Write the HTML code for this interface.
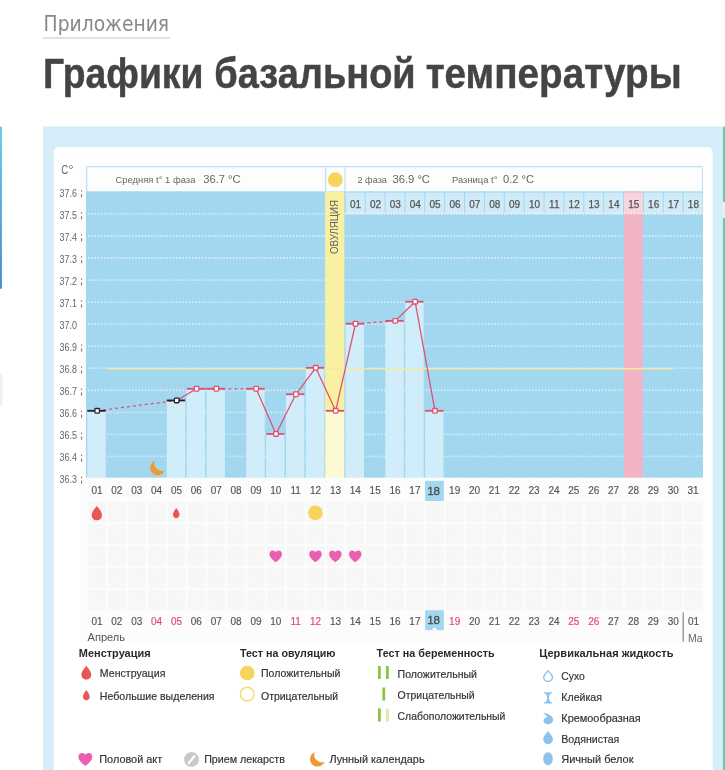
<!DOCTYPE html>
<html><head><meta charset="utf-8"><title>Графики базальной температуры</title>
<style>
html,body{margin:0;padding:0;background:#fff;width:725px;height:770px;overflow:hidden;}
svg{display:block;font-family:"Liberation Sans", "DejaVu Sans", sans-serif;will-change:transform;}
</style></head><body>
<svg width="725" height="770" viewBox="0 0 725 770">
<defs><linearGradient id="lg" x1="0" y1="0" x2="0" y2="1"><stop offset="0" stop-color="#6cc8e6"/><stop offset="1" stop-color="#3d8fd2"/></linearGradient><pattern id="hatch" width="2.6" height="4" patternUnits="userSpaceOnUse" patternTransform="rotate(-45)"><rect width="2.6" height="4" fill="#fafafa"/><rect width="1" height="4" fill="#f3f3f3"/></pattern></defs>
<rect x="0.00" y="126.70" width="1.90" height="162.00" fill="url(#lg)" />
<rect x="-4.00" y="374.00" width="5.60" height="31.50" fill="#f4f4f4" rx="2" stroke="#e6e6e6" stroke-width="0.8"/>
<text x="43.60" y="30.50" font-size="22" fill="#888" font-weight="normal" text-anchor="start" textLength="125.5" lengthAdjust="spacingAndGlyphs" font-family="DejaVu Sans Condensed, DejaVu Sans, sans-serif">Приложения</text>
<rect x="43.00" y="37.00" width="127.00" height="2.00" fill="#e2e2e2" />
<text x="42.90" y="87.60" font-size="42" fill="#444" font-weight="bold" text-anchor="start" textLength="160.6" lengthAdjust="spacingAndGlyphs" stroke="#444" stroke-width="0.45">Графики</text>
<text x="214.30" y="87.60" font-size="42" fill="#444" font-weight="bold" text-anchor="start" textLength="201.4" lengthAdjust="spacingAndGlyphs" stroke="#444" stroke-width="0.45">базальной</text>
<text x="425.70" y="87.60" font-size="42" fill="#444" font-weight="bold" text-anchor="start" textLength="256.0" lengthAdjust="spacingAndGlyphs" stroke="#444" stroke-width="0.45">температуры</text>
<rect x="43.00" y="126.50" width="679.50" height="700.00" fill="#d5edf9" />
<rect x="722.80" y="126.50" width="3.00" height="700.00" fill="#62cbb0" />
<rect x="722.80" y="202.00" width="3.00" height="16.00" fill="#e3f2f9" />
<rect x="53.70" y="147.20" width="659.00" height="700.00" fill="#ffffff" rx="5"/>
<rect x="80.00" y="162.80" width="623.60" height="479.70" fill="#fcfcfc" />
<rect x="86.00" y="166.00" width="617.00" height="26.60" fill="#bfe3f5" rx="1.5"/>
<rect x="87.30" y="167.30" width="237.60" height="24.20" fill="#fdfdfd" />
<rect x="326.30" y="167.30" width="18.00" height="24.20" fill="#fdfdfd" />
<rect x="345.60" y="167.30" width="356.20" height="24.20" fill="#fdfdfd" />
<circle cx="335.3" cy="179.7" r="7.4" fill="#f6d55c"/>
<text x="115.50" y="183.10" font-size="9.5" fill="#666" font-weight="normal" text-anchor="start" textLength="79.9" lengthAdjust="spacingAndGlyphs" >Средняя t° 1 фаза</text>
<text x="203.30" y="183.10" font-size="11.5" fill="#666" font-weight="normal" text-anchor="start" textLength="37.3" lengthAdjust="spacingAndGlyphs" >36.7 °C</text>
<text x="357.40" y="183.10" font-size="9.5" fill="#666" font-weight="normal" text-anchor="start" textLength="29.6" lengthAdjust="spacingAndGlyphs" >2 фаза</text>
<text x="392.40" y="183.10" font-size="11.5" fill="#666" font-weight="normal" text-anchor="start" textLength="37.6" lengthAdjust="spacingAndGlyphs" >36.9 °C</text>
<text x="452.00" y="183.10" font-size="9.5" fill="#666" font-weight="normal" text-anchor="start" textLength="45.5" lengthAdjust="spacingAndGlyphs" >Разница t°</text>
<text x="503.00" y="183.10" font-size="11.5" fill="#666" font-weight="normal" text-anchor="start" textLength="31" lengthAdjust="spacingAndGlyphs" >0.2 °C</text>
<rect x="86.00" y="191.50" width="617.00" height="286.50" fill="#a2d7ef" />
<line x1="88" y1="213.94" x2="703" y2="213.94" stroke="#ffffff" stroke-opacity="0.5" stroke-width="1.8" stroke-dasharray="1.6 1.55"/>
<line x1="88" y1="235.98" x2="703" y2="235.98" stroke="#ffffff" stroke-opacity="0.5" stroke-width="1.8" stroke-dasharray="1.6 1.55"/>
<line x1="88" y1="258.02" x2="703" y2="258.02" stroke="#ffffff" stroke-opacity="0.5" stroke-width="1.8" stroke-dasharray="1.6 1.55"/>
<line x1="88" y1="280.06" x2="703" y2="280.06" stroke="#ffffff" stroke-opacity="0.5" stroke-width="1.8" stroke-dasharray="1.6 1.55"/>
<line x1="88" y1="302.10" x2="703" y2="302.10" stroke="#ffffff" stroke-opacity="0.5" stroke-width="1.8" stroke-dasharray="1.6 1.55"/>
<line x1="88" y1="324.14" x2="703" y2="324.14" stroke="#ffffff" stroke-opacity="0.5" stroke-width="1.8" stroke-dasharray="1.6 1.55"/>
<line x1="88" y1="346.18" x2="703" y2="346.18" stroke="#ffffff" stroke-opacity="0.5" stroke-width="1.8" stroke-dasharray="1.6 1.55"/>
<line x1="88" y1="368.22" x2="703" y2="368.22" stroke="#ffffff" stroke-opacity="0.5" stroke-width="1.8" stroke-dasharray="1.6 1.55"/>
<line x1="88" y1="390.26" x2="703" y2="390.26" stroke="#ffffff" stroke-opacity="0.5" stroke-width="1.8" stroke-dasharray="1.6 1.55"/>
<line x1="88" y1="412.30" x2="703" y2="412.30" stroke="#ffffff" stroke-opacity="0.5" stroke-width="1.8" stroke-dasharray="1.6 1.55"/>
<line x1="88" y1="434.34" x2="703" y2="434.34" stroke="#ffffff" stroke-opacity="0.5" stroke-width="1.8" stroke-dasharray="1.6 1.55"/>
<line x1="88" y1="456.38" x2="703" y2="456.38" stroke="#ffffff" stroke-opacity="0.5" stroke-width="1.8" stroke-dasharray="1.6 1.55"/>
<rect x="325.14" y="191.50" width="19.20" height="286.50" fill="#faf0a2" />
<rect x="623.89" y="191.50" width="18.80" height="286.50" fill="#f1b4c4" />
<rect x="87.30" y="410.80" width="18.40" height="67.20" fill="#d1edf9" />
<rect x="166.78" y="400.44" width="18.40" height="77.56" fill="#d1edf9" />
<rect x="186.65" y="388.76" width="18.40" height="89.24" fill="#d1edf9" />
<rect x="206.52" y="388.76" width="18.40" height="89.24" fill="#d1edf9" />
<rect x="246.26" y="388.76" width="18.40" height="89.24" fill="#d1edf9" />
<rect x="266.13" y="433.94" width="18.40" height="44.06" fill="#d1edf9" />
<rect x="286.00" y="394.27" width="18.40" height="83.73" fill="#d1edf9" />
<rect x="305.87" y="367.82" width="18.40" height="110.18" fill="#d1edf9" />
<rect x="325.74" y="410.80" width="18.40" height="67.20" fill="#fcf9d3" />
<rect x="345.61" y="323.74" width="18.40" height="154.26" fill="#d1edf9" />
<rect x="385.35" y="320.87" width="18.40" height="157.13" fill="#d1edf9" />
<rect x="405.22" y="301.70" width="18.40" height="176.30" fill="#d1edf9" />
<rect x="425.09" y="410.80" width="18.40" height="67.20" fill="#d1edf9" />
<rect x="345.81" y="192.60" width="18.90" height="20.90" fill="#d0eaf8" />
<text x="355.61" y="208.30" font-size="10" fill="#555" font-weight="normal" text-anchor="middle" stroke="#555" stroke-width="0.25">01</text>
<rect x="365.68" y="192.60" width="18.90" height="20.90" fill="#d0eaf8" />
<text x="375.48" y="208.30" font-size="10" fill="#555" font-weight="normal" text-anchor="middle" stroke="#555" stroke-width="0.25">02</text>
<rect x="385.55" y="192.60" width="18.90" height="20.90" fill="#d0eaf8" />
<text x="395.35" y="208.30" font-size="10" fill="#555" font-weight="normal" text-anchor="middle" stroke="#555" stroke-width="0.25">03</text>
<rect x="405.42" y="192.60" width="18.90" height="20.90" fill="#d0eaf8" />
<text x="415.22" y="208.30" font-size="10" fill="#555" font-weight="normal" text-anchor="middle" stroke="#555" stroke-width="0.25">04</text>
<rect x="425.29" y="192.60" width="18.90" height="20.90" fill="#d0eaf8" />
<text x="435.09" y="208.30" font-size="10" fill="#555" font-weight="normal" text-anchor="middle" stroke="#555" stroke-width="0.25">05</text>
<rect x="445.16" y="192.60" width="18.90" height="20.90" fill="#d0eaf8" />
<text x="454.96" y="208.30" font-size="10" fill="#555" font-weight="normal" text-anchor="middle" stroke="#555" stroke-width="0.25">06</text>
<rect x="465.03" y="192.60" width="18.90" height="20.90" fill="#d0eaf8" />
<text x="474.83" y="208.30" font-size="10" fill="#555" font-weight="normal" text-anchor="middle" stroke="#555" stroke-width="0.25">07</text>
<rect x="484.90" y="192.60" width="18.90" height="20.90" fill="#d0eaf8" />
<text x="494.70" y="208.30" font-size="10" fill="#555" font-weight="normal" text-anchor="middle" stroke="#555" stroke-width="0.25">08</text>
<rect x="504.77" y="192.60" width="18.90" height="20.90" fill="#d0eaf8" />
<text x="514.57" y="208.30" font-size="10" fill="#555" font-weight="normal" text-anchor="middle" stroke="#555" stroke-width="0.25">09</text>
<rect x="524.64" y="192.60" width="18.90" height="20.90" fill="#d0eaf8" />
<text x="534.44" y="208.30" font-size="10" fill="#555" font-weight="normal" text-anchor="middle" stroke="#555" stroke-width="0.25">10</text>
<rect x="544.51" y="192.60" width="18.90" height="20.90" fill="#d0eaf8" />
<text x="554.31" y="208.30" font-size="10" fill="#555" font-weight="normal" text-anchor="middle" stroke="#555" stroke-width="0.25">11</text>
<rect x="564.38" y="192.60" width="18.90" height="20.90" fill="#d0eaf8" />
<text x="574.18" y="208.30" font-size="10" fill="#555" font-weight="normal" text-anchor="middle" stroke="#555" stroke-width="0.25">12</text>
<rect x="584.25" y="192.60" width="18.90" height="20.90" fill="#d0eaf8" />
<text x="594.05" y="208.30" font-size="10" fill="#555" font-weight="normal" text-anchor="middle" stroke="#555" stroke-width="0.25">13</text>
<rect x="604.12" y="192.60" width="18.90" height="20.90" fill="#d0eaf8" />
<text x="613.92" y="208.30" font-size="10" fill="#555" font-weight="normal" text-anchor="middle" stroke="#555" stroke-width="0.25">14</text>
<rect x="623.99" y="192.60" width="18.90" height="20.90" fill="#f7d4df" />
<text x="633.79" y="208.30" font-size="10" fill="#555" font-weight="normal" text-anchor="middle" stroke="#555" stroke-width="0.25">15</text>
<rect x="643.86" y="192.60" width="18.90" height="20.90" fill="#d0eaf8" />
<text x="653.66" y="208.30" font-size="10" fill="#555" font-weight="normal" text-anchor="middle" stroke="#555" stroke-width="0.25">16</text>
<rect x="663.73" y="192.60" width="18.90" height="20.90" fill="#d0eaf8" />
<text x="673.53" y="208.30" font-size="10" fill="#555" font-weight="normal" text-anchor="middle" stroke="#555" stroke-width="0.25">17</text>
<rect x="683.60" y="192.60" width="18.90" height="20.90" fill="#d0eaf8" />
<text x="693.40" y="208.30" font-size="10" fill="#555" font-weight="normal" text-anchor="middle" stroke="#555" stroke-width="0.25">18</text>
<line x1="345.31" y1="213.5" x2="703" y2="213.5" stroke="#ffffff" stroke-opacity="0.8" stroke-width="1.3" stroke-dasharray="1.5 1.5"/>
<line x1="87" y1="477.5" x2="703" y2="477.5" stroke="#ffffff" stroke-opacity="0.6" stroke-width="1" stroke-dasharray="1.5 1.5"/>
<line x1="107" y1="368.7" x2="673" y2="368.7" stroke="#f2eca0" stroke-width="1.6"/>
<text x="0" y="0" font-size="10" fill="#666" transform="translate(338.2,254) rotate(-90)" textLength="54" lengthAdjust="spacingAndGlyphs">ОВУЛЯЦИЯ</text>
<line x1="97.20" y1="410.80" x2="176.68" y2="400.44" stroke="#e04f72" stroke-width="1.25" stroke-dasharray="3 3"/>
<line x1="176.68" y1="400.44" x2="196.55" y2="388.76" stroke="#e04f72" stroke-width="1.25"/>
<line x1="196.55" y1="388.76" x2="216.42" y2="388.76" stroke="#e04f72" stroke-width="1.25"/>
<line x1="216.42" y1="388.76" x2="256.16" y2="388.76" stroke="#e04f72" stroke-width="1.25" stroke-dasharray="3 3"/>
<line x1="256.16" y1="388.76" x2="276.03" y2="433.94" stroke="#e04f72" stroke-width="1.25"/>
<line x1="276.03" y1="433.94" x2="295.90" y2="394.27" stroke="#e04f72" stroke-width="1.25"/>
<line x1="295.90" y1="394.27" x2="315.77" y2="367.82" stroke="#e04f72" stroke-width="1.25"/>
<line x1="315.77" y1="367.82" x2="335.64" y2="410.80" stroke="#e04f72" stroke-width="1.25"/>
<line x1="335.64" y1="410.80" x2="355.51" y2="323.74" stroke="#e04f72" stroke-width="1.25"/>
<line x1="355.51" y1="323.74" x2="395.25" y2="320.87" stroke="#e04f72" stroke-width="1.25" stroke-dasharray="3 3"/>
<line x1="395.25" y1="320.87" x2="415.12" y2="301.70" stroke="#e04f72" stroke-width="1.25"/>
<line x1="415.12" y1="301.70" x2="434.99" y2="410.80" stroke="#e04f72" stroke-width="1.25"/>
<line x1="87.30" y1="410.80" x2="105.70" y2="410.80" stroke="#222" stroke-width="1.8"/>
<rect x="94.90" y="408.50" width="4.6" height="4.6" fill="#fff" stroke="#222" stroke-width="1.3" rx="0.8"/>
<line x1="166.78" y1="400.44" x2="185.18" y2="400.44" stroke="#222" stroke-width="1.8"/>
<rect x="174.38" y="398.14" width="4.6" height="4.6" fill="#fff" stroke="#222" stroke-width="1.3" rx="0.8"/>
<line x1="186.65" y1="388.76" x2="205.05" y2="388.76" stroke="#e04f72" stroke-width="1.8"/>
<rect x="194.25" y="386.46" width="4.6" height="4.6" fill="#fff" stroke="#e04f72" stroke-width="1.3" rx="0.8"/>
<line x1="206.52" y1="388.76" x2="224.92" y2="388.76" stroke="#e04f72" stroke-width="1.8"/>
<rect x="214.12" y="386.46" width="4.6" height="4.6" fill="#fff" stroke="#e04f72" stroke-width="1.3" rx="0.8"/>
<line x1="246.26" y1="388.76" x2="264.66" y2="388.76" stroke="#e04f72" stroke-width="1.8"/>
<rect x="253.86" y="386.46" width="4.6" height="4.6" fill="#fff" stroke="#e04f72" stroke-width="1.3" rx="0.8"/>
<line x1="266.13" y1="433.94" x2="284.53" y2="433.94" stroke="#e04f72" stroke-width="1.8"/>
<rect x="273.73" y="431.64" width="4.6" height="4.6" fill="#fff" stroke="#e04f72" stroke-width="1.3" rx="0.8"/>
<line x1="286.00" y1="394.27" x2="304.40" y2="394.27" stroke="#e04f72" stroke-width="1.8"/>
<rect x="293.60" y="391.97" width="4.6" height="4.6" fill="#fff" stroke="#e04f72" stroke-width="1.3" rx="0.8"/>
<line x1="305.87" y1="367.82" x2="324.27" y2="367.82" stroke="#e04f72" stroke-width="1.8"/>
<rect x="313.47" y="365.52" width="4.6" height="4.6" fill="#fff" stroke="#e04f72" stroke-width="1.3" rx="0.8"/>
<line x1="325.74" y1="410.80" x2="344.14" y2="410.80" stroke="#e04f72" stroke-width="1.8"/>
<rect x="333.34" y="408.50" width="4.6" height="4.6" fill="#fff" stroke="#e04f72" stroke-width="1.3" rx="0.8"/>
<line x1="345.61" y1="323.74" x2="364.01" y2="323.74" stroke="#e04f72" stroke-width="1.8"/>
<rect x="353.21" y="321.44" width="4.6" height="4.6" fill="#fff" stroke="#e04f72" stroke-width="1.3" rx="0.8"/>
<line x1="385.35" y1="320.87" x2="403.75" y2="320.87" stroke="#e04f72" stroke-width="1.8"/>
<rect x="392.95" y="318.57" width="4.6" height="4.6" fill="#fff" stroke="#e04f72" stroke-width="1.3" rx="0.8"/>
<line x1="405.22" y1="301.70" x2="423.62" y2="301.70" stroke="#e04f72" stroke-width="1.8"/>
<rect x="412.82" y="299.40" width="4.6" height="4.6" fill="#fff" stroke="#e04f72" stroke-width="1.3" rx="0.8"/>
<line x1="425.09" y1="410.80" x2="443.49" y2="410.80" stroke="#e04f72" stroke-width="1.8"/>
<rect x="432.69" y="408.50" width="4.6" height="4.6" fill="#fff" stroke="#e04f72" stroke-width="1.3" rx="0.8"/>
<path transform="translate(155,460.8)" d="M0,0 A7.5,7.5 0 1,0 9.7,9.7 A7.5,7.5 0 0,1 0,0 Z" fill="#ec9a35"/>
<text x="61.20" y="173.80" font-size="12" fill="#666" font-weight="normal" text-anchor="start" textLength="7.0" lengthAdjust="spacingAndGlyphs" >C</text>
<text x="68.60" y="174.30" font-size="12.5" fill="#666" font-weight="normal" text-anchor="start" textLength="5.0" lengthAdjust="spacingAndGlyphs" >°</text>
<text x="59.50" y="196.70" font-size="10.5" fill="#666" font-weight="normal" text-anchor="start" textLength="17.5" lengthAdjust="spacingAndGlyphs" >37.6</text>
<rect x="81.00" y="190.20" width="1.10" height="1.40" fill="#777" />
<rect x="81.00" y="194.20" width="1.10" height="3.00" fill="#777" />
<text x="59.50" y="218.74" font-size="10.5" fill="#666" font-weight="normal" text-anchor="start" textLength="17.5" lengthAdjust="spacingAndGlyphs" >37.5</text>
<rect x="81.00" y="212.24" width="1.10" height="1.40" fill="#777" />
<rect x="81.00" y="216.24" width="1.10" height="3.00" fill="#777" />
<text x="59.50" y="240.78" font-size="10.5" fill="#666" font-weight="normal" text-anchor="start" textLength="17.5" lengthAdjust="spacingAndGlyphs" >37.4</text>
<rect x="81.00" y="234.28" width="1.10" height="1.40" fill="#777" />
<rect x="81.00" y="238.28" width="1.10" height="3.00" fill="#777" />
<text x="59.50" y="262.82" font-size="10.5" fill="#666" font-weight="normal" text-anchor="start" textLength="17.5" lengthAdjust="spacingAndGlyphs" >37.3</text>
<rect x="81.00" y="256.32" width="1.10" height="1.40" fill="#777" />
<rect x="81.00" y="260.32" width="1.10" height="3.00" fill="#777" />
<text x="59.50" y="284.86" font-size="10.5" fill="#666" font-weight="normal" text-anchor="start" textLength="17.5" lengthAdjust="spacingAndGlyphs" >37.2</text>
<rect x="81.00" y="278.36" width="1.10" height="1.40" fill="#777" />
<rect x="81.00" y="282.36" width="1.10" height="3.00" fill="#777" />
<text x="59.50" y="306.90" font-size="10.5" fill="#666" font-weight="normal" text-anchor="start" textLength="17.5" lengthAdjust="spacingAndGlyphs" >37.1</text>
<rect x="81.00" y="300.40" width="1.10" height="1.40" fill="#777" />
<rect x="81.00" y="304.40" width="1.10" height="3.00" fill="#777" />
<text x="59.50" y="328.94" font-size="10.5" fill="#666" font-weight="normal" text-anchor="start" textLength="17.5" lengthAdjust="spacingAndGlyphs" >37.0</text>
<text x="59.50" y="350.98" font-size="10.5" fill="#666" font-weight="normal" text-anchor="start" textLength="17.5" lengthAdjust="spacingAndGlyphs" >36.9</text>
<rect x="81.00" y="344.48" width="1.10" height="1.40" fill="#777" />
<rect x="81.00" y="348.48" width="1.10" height="3.00" fill="#777" />
<text x="59.50" y="373.02" font-size="10.5" fill="#666" font-weight="normal" text-anchor="start" textLength="17.5" lengthAdjust="spacingAndGlyphs" >36.8</text>
<rect x="81.00" y="366.52" width="1.10" height="1.40" fill="#777" />
<rect x="81.00" y="370.52" width="1.10" height="3.00" fill="#777" />
<text x="59.50" y="395.06" font-size="10.5" fill="#666" font-weight="normal" text-anchor="start" textLength="17.5" lengthAdjust="spacingAndGlyphs" >36.7</text>
<rect x="81.00" y="388.56" width="1.10" height="1.40" fill="#777" />
<rect x="81.00" y="392.56" width="1.10" height="3.00" fill="#777" />
<text x="59.50" y="417.10" font-size="10.5" fill="#666" font-weight="normal" text-anchor="start" textLength="17.5" lengthAdjust="spacingAndGlyphs" >36.6</text>
<rect x="81.00" y="410.60" width="1.10" height="1.40" fill="#777" />
<rect x="81.00" y="414.60" width="1.10" height="3.00" fill="#777" />
<text x="59.50" y="439.14" font-size="10.5" fill="#666" font-weight="normal" text-anchor="start" textLength="17.5" lengthAdjust="spacingAndGlyphs" >36.5</text>
<rect x="81.00" y="432.64" width="1.10" height="1.40" fill="#777" />
<rect x="81.00" y="436.64" width="1.10" height="3.00" fill="#777" />
<text x="59.50" y="461.18" font-size="10.5" fill="#666" font-weight="normal" text-anchor="start" textLength="17.5" lengthAdjust="spacingAndGlyphs" >36.4</text>
<rect x="81.00" y="454.68" width="1.10" height="1.40" fill="#777" />
<rect x="81.00" y="458.68" width="1.10" height="3.00" fill="#777" />
<text x="59.50" y="483.22" font-size="10.5" fill="#666" font-weight="normal" text-anchor="start" textLength="17.5" lengthAdjust="spacingAndGlyphs" >36.3</text>
<rect x="81.00" y="476.72" width="1.10" height="1.40" fill="#777" />
<rect x="81.00" y="480.72" width="1.10" height="3.00" fill="#777" />
<rect x="88.40" y="502.00" width="17.40" height="20.00" fill="url(#hatch)" />
<rect x="108.27" y="502.00" width="17.40" height="20.00" fill="url(#hatch)" />
<rect x="128.14" y="502.00" width="17.40" height="20.00" fill="url(#hatch)" />
<rect x="148.01" y="502.00" width="17.40" height="20.00" fill="url(#hatch)" />
<rect x="167.88" y="502.00" width="17.40" height="20.00" fill="url(#hatch)" />
<rect x="187.75" y="502.00" width="17.40" height="20.00" fill="url(#hatch)" />
<rect x="207.62" y="502.00" width="17.40" height="20.00" fill="url(#hatch)" />
<rect x="227.49" y="502.00" width="17.40" height="20.00" fill="url(#hatch)" />
<rect x="247.36" y="502.00" width="17.40" height="20.00" fill="url(#hatch)" />
<rect x="267.23" y="502.00" width="17.40" height="20.00" fill="url(#hatch)" />
<rect x="287.10" y="502.00" width="17.40" height="20.00" fill="url(#hatch)" />
<rect x="306.97" y="502.00" width="17.40" height="20.00" fill="url(#hatch)" />
<rect x="326.84" y="502.00" width="17.40" height="20.00" fill="url(#hatch)" />
<rect x="346.71" y="502.00" width="17.40" height="20.00" fill="url(#hatch)" />
<rect x="366.58" y="502.00" width="17.40" height="20.00" fill="url(#hatch)" />
<rect x="386.45" y="502.00" width="17.40" height="20.00" fill="url(#hatch)" />
<rect x="406.32" y="502.00" width="17.40" height="20.00" fill="url(#hatch)" />
<rect x="426.19" y="502.00" width="17.40" height="20.00" fill="url(#hatch)" />
<rect x="446.06" y="502.00" width="17.40" height="20.00" fill="url(#hatch)" />
<rect x="465.93" y="502.00" width="17.40" height="20.00" fill="url(#hatch)" />
<rect x="485.80" y="502.00" width="17.40" height="20.00" fill="url(#hatch)" />
<rect x="505.67" y="502.00" width="17.40" height="20.00" fill="url(#hatch)" />
<rect x="525.54" y="502.00" width="17.40" height="20.00" fill="url(#hatch)" />
<rect x="545.41" y="502.00" width="17.40" height="20.00" fill="url(#hatch)" />
<rect x="565.28" y="502.00" width="17.40" height="20.00" fill="url(#hatch)" />
<rect x="585.15" y="502.00" width="17.40" height="20.00" fill="url(#hatch)" />
<rect x="605.02" y="502.00" width="17.40" height="20.00" fill="url(#hatch)" />
<rect x="624.89" y="502.00" width="17.40" height="20.00" fill="url(#hatch)" />
<rect x="644.76" y="502.00" width="17.40" height="20.00" fill="url(#hatch)" />
<rect x="664.63" y="502.00" width="17.40" height="20.00" fill="url(#hatch)" />
<rect x="684.50" y="502.00" width="17.40" height="20.00" fill="url(#hatch)" />
<rect x="88.40" y="524.00" width="17.40" height="20.00" fill="url(#hatch)" />
<rect x="108.27" y="524.00" width="17.40" height="20.00" fill="url(#hatch)" />
<rect x="128.14" y="524.00" width="17.40" height="20.00" fill="url(#hatch)" />
<rect x="148.01" y="524.00" width="17.40" height="20.00" fill="url(#hatch)" />
<rect x="167.88" y="524.00" width="17.40" height="20.00" fill="url(#hatch)" />
<rect x="187.75" y="524.00" width="17.40" height="20.00" fill="url(#hatch)" />
<rect x="207.62" y="524.00" width="17.40" height="20.00" fill="url(#hatch)" />
<rect x="227.49" y="524.00" width="17.40" height="20.00" fill="url(#hatch)" />
<rect x="247.36" y="524.00" width="17.40" height="20.00" fill="url(#hatch)" />
<rect x="267.23" y="524.00" width="17.40" height="20.00" fill="url(#hatch)" />
<rect x="287.10" y="524.00" width="17.40" height="20.00" fill="url(#hatch)" />
<rect x="306.97" y="524.00" width="17.40" height="20.00" fill="url(#hatch)" />
<rect x="326.84" y="524.00" width="17.40" height="20.00" fill="url(#hatch)" />
<rect x="346.71" y="524.00" width="17.40" height="20.00" fill="url(#hatch)" />
<rect x="366.58" y="524.00" width="17.40" height="20.00" fill="url(#hatch)" />
<rect x="386.45" y="524.00" width="17.40" height="20.00" fill="url(#hatch)" />
<rect x="406.32" y="524.00" width="17.40" height="20.00" fill="url(#hatch)" />
<rect x="426.19" y="524.00" width="17.40" height="20.00" fill="url(#hatch)" />
<rect x="446.06" y="524.00" width="17.40" height="20.00" fill="url(#hatch)" />
<rect x="465.93" y="524.00" width="17.40" height="20.00" fill="url(#hatch)" />
<rect x="485.80" y="524.00" width="17.40" height="20.00" fill="url(#hatch)" />
<rect x="505.67" y="524.00" width="17.40" height="20.00" fill="url(#hatch)" />
<rect x="525.54" y="524.00" width="17.40" height="20.00" fill="url(#hatch)" />
<rect x="545.41" y="524.00" width="17.40" height="20.00" fill="url(#hatch)" />
<rect x="565.28" y="524.00" width="17.40" height="20.00" fill="url(#hatch)" />
<rect x="585.15" y="524.00" width="17.40" height="20.00" fill="url(#hatch)" />
<rect x="605.02" y="524.00" width="17.40" height="20.00" fill="url(#hatch)" />
<rect x="624.89" y="524.00" width="17.40" height="20.00" fill="url(#hatch)" />
<rect x="644.76" y="524.00" width="17.40" height="20.00" fill="url(#hatch)" />
<rect x="664.63" y="524.00" width="17.40" height="20.00" fill="url(#hatch)" />
<rect x="684.50" y="524.00" width="17.40" height="20.00" fill="url(#hatch)" />
<rect x="88.40" y="546.00" width="17.40" height="20.00" fill="url(#hatch)" />
<rect x="108.27" y="546.00" width="17.40" height="20.00" fill="url(#hatch)" />
<rect x="128.14" y="546.00" width="17.40" height="20.00" fill="url(#hatch)" />
<rect x="148.01" y="546.00" width="17.40" height="20.00" fill="url(#hatch)" />
<rect x="167.88" y="546.00" width="17.40" height="20.00" fill="url(#hatch)" />
<rect x="187.75" y="546.00" width="17.40" height="20.00" fill="url(#hatch)" />
<rect x="207.62" y="546.00" width="17.40" height="20.00" fill="url(#hatch)" />
<rect x="227.49" y="546.00" width="17.40" height="20.00" fill="url(#hatch)" />
<rect x="247.36" y="546.00" width="17.40" height="20.00" fill="url(#hatch)" />
<rect x="267.23" y="546.00" width="17.40" height="20.00" fill="url(#hatch)" />
<rect x="287.10" y="546.00" width="17.40" height="20.00" fill="url(#hatch)" />
<rect x="306.97" y="546.00" width="17.40" height="20.00" fill="url(#hatch)" />
<rect x="326.84" y="546.00" width="17.40" height="20.00" fill="url(#hatch)" />
<rect x="346.71" y="546.00" width="17.40" height="20.00" fill="url(#hatch)" />
<rect x="366.58" y="546.00" width="17.40" height="20.00" fill="url(#hatch)" />
<rect x="386.45" y="546.00" width="17.40" height="20.00" fill="url(#hatch)" />
<rect x="406.32" y="546.00" width="17.40" height="20.00" fill="url(#hatch)" />
<rect x="426.19" y="546.00" width="17.40" height="20.00" fill="url(#hatch)" />
<rect x="446.06" y="546.00" width="17.40" height="20.00" fill="url(#hatch)" />
<rect x="465.93" y="546.00" width="17.40" height="20.00" fill="url(#hatch)" />
<rect x="485.80" y="546.00" width="17.40" height="20.00" fill="url(#hatch)" />
<rect x="505.67" y="546.00" width="17.40" height="20.00" fill="url(#hatch)" />
<rect x="525.54" y="546.00" width="17.40" height="20.00" fill="url(#hatch)" />
<rect x="545.41" y="546.00" width="17.40" height="20.00" fill="url(#hatch)" />
<rect x="565.28" y="546.00" width="17.40" height="20.00" fill="url(#hatch)" />
<rect x="585.15" y="546.00" width="17.40" height="20.00" fill="url(#hatch)" />
<rect x="605.02" y="546.00" width="17.40" height="20.00" fill="url(#hatch)" />
<rect x="624.89" y="546.00" width="17.40" height="20.00" fill="url(#hatch)" />
<rect x="644.76" y="546.00" width="17.40" height="20.00" fill="url(#hatch)" />
<rect x="664.63" y="546.00" width="17.40" height="20.00" fill="url(#hatch)" />
<rect x="684.50" y="546.00" width="17.40" height="20.00" fill="url(#hatch)" />
<rect x="88.40" y="568.00" width="17.40" height="20.00" fill="url(#hatch)" />
<rect x="108.27" y="568.00" width="17.40" height="20.00" fill="url(#hatch)" />
<rect x="128.14" y="568.00" width="17.40" height="20.00" fill="url(#hatch)" />
<rect x="148.01" y="568.00" width="17.40" height="20.00" fill="url(#hatch)" />
<rect x="167.88" y="568.00" width="17.40" height="20.00" fill="url(#hatch)" />
<rect x="187.75" y="568.00" width="17.40" height="20.00" fill="url(#hatch)" />
<rect x="207.62" y="568.00" width="17.40" height="20.00" fill="url(#hatch)" />
<rect x="227.49" y="568.00" width="17.40" height="20.00" fill="url(#hatch)" />
<rect x="247.36" y="568.00" width="17.40" height="20.00" fill="url(#hatch)" />
<rect x="267.23" y="568.00" width="17.40" height="20.00" fill="url(#hatch)" />
<rect x="287.10" y="568.00" width="17.40" height="20.00" fill="url(#hatch)" />
<rect x="306.97" y="568.00" width="17.40" height="20.00" fill="url(#hatch)" />
<rect x="326.84" y="568.00" width="17.40" height="20.00" fill="url(#hatch)" />
<rect x="346.71" y="568.00" width="17.40" height="20.00" fill="url(#hatch)" />
<rect x="366.58" y="568.00" width="17.40" height="20.00" fill="url(#hatch)" />
<rect x="386.45" y="568.00" width="17.40" height="20.00" fill="url(#hatch)" />
<rect x="406.32" y="568.00" width="17.40" height="20.00" fill="url(#hatch)" />
<rect x="426.19" y="568.00" width="17.40" height="20.00" fill="url(#hatch)" />
<rect x="446.06" y="568.00" width="17.40" height="20.00" fill="url(#hatch)" />
<rect x="465.93" y="568.00" width="17.40" height="20.00" fill="url(#hatch)" />
<rect x="485.80" y="568.00" width="17.40" height="20.00" fill="url(#hatch)" />
<rect x="505.67" y="568.00" width="17.40" height="20.00" fill="url(#hatch)" />
<rect x="525.54" y="568.00" width="17.40" height="20.00" fill="url(#hatch)" />
<rect x="545.41" y="568.00" width="17.40" height="20.00" fill="url(#hatch)" />
<rect x="565.28" y="568.00" width="17.40" height="20.00" fill="url(#hatch)" />
<rect x="585.15" y="568.00" width="17.40" height="20.00" fill="url(#hatch)" />
<rect x="605.02" y="568.00" width="17.40" height="20.00" fill="url(#hatch)" />
<rect x="624.89" y="568.00" width="17.40" height="20.00" fill="url(#hatch)" />
<rect x="644.76" y="568.00" width="17.40" height="20.00" fill="url(#hatch)" />
<rect x="664.63" y="568.00" width="17.40" height="20.00" fill="url(#hatch)" />
<rect x="684.50" y="568.00" width="17.40" height="20.00" fill="url(#hatch)" />
<rect x="88.40" y="590.00" width="17.40" height="20.00" fill="url(#hatch)" />
<rect x="108.27" y="590.00" width="17.40" height="20.00" fill="url(#hatch)" />
<rect x="128.14" y="590.00" width="17.40" height="20.00" fill="url(#hatch)" />
<rect x="148.01" y="590.00" width="17.40" height="20.00" fill="url(#hatch)" />
<rect x="167.88" y="590.00" width="17.40" height="20.00" fill="url(#hatch)" />
<rect x="187.75" y="590.00" width="17.40" height="20.00" fill="url(#hatch)" />
<rect x="207.62" y="590.00" width="17.40" height="20.00" fill="url(#hatch)" />
<rect x="227.49" y="590.00" width="17.40" height="20.00" fill="url(#hatch)" />
<rect x="247.36" y="590.00" width="17.40" height="20.00" fill="url(#hatch)" />
<rect x="267.23" y="590.00" width="17.40" height="20.00" fill="url(#hatch)" />
<rect x="287.10" y="590.00" width="17.40" height="20.00" fill="url(#hatch)" />
<rect x="306.97" y="590.00" width="17.40" height="20.00" fill="url(#hatch)" />
<rect x="326.84" y="590.00" width="17.40" height="20.00" fill="url(#hatch)" />
<rect x="346.71" y="590.00" width="17.40" height="20.00" fill="url(#hatch)" />
<rect x="366.58" y="590.00" width="17.40" height="20.00" fill="url(#hatch)" />
<rect x="386.45" y="590.00" width="17.40" height="20.00" fill="url(#hatch)" />
<rect x="406.32" y="590.00" width="17.40" height="20.00" fill="url(#hatch)" />
<rect x="426.19" y="590.00" width="17.40" height="20.00" fill="url(#hatch)" />
<rect x="446.06" y="590.00" width="17.40" height="20.00" fill="url(#hatch)" />
<rect x="465.93" y="590.00" width="17.40" height="20.00" fill="url(#hatch)" />
<rect x="485.80" y="590.00" width="17.40" height="20.00" fill="url(#hatch)" />
<rect x="505.67" y="590.00" width="17.40" height="20.00" fill="url(#hatch)" />
<rect x="525.54" y="590.00" width="17.40" height="20.00" fill="url(#hatch)" />
<rect x="545.41" y="590.00" width="17.40" height="20.00" fill="url(#hatch)" />
<rect x="565.28" y="590.00" width="17.40" height="20.00" fill="url(#hatch)" />
<rect x="585.15" y="590.00" width="17.40" height="20.00" fill="url(#hatch)" />
<rect x="605.02" y="590.00" width="17.40" height="20.00" fill="url(#hatch)" />
<rect x="624.89" y="590.00" width="17.40" height="20.00" fill="url(#hatch)" />
<rect x="644.76" y="590.00" width="17.40" height="20.00" fill="url(#hatch)" />
<rect x="664.63" y="590.00" width="17.40" height="20.00" fill="url(#hatch)" />
<rect x="684.50" y="590.00" width="17.40" height="20.00" fill="url(#hatch)" />
<text x="97.00" y="494.00" font-size="10" fill="#555" font-weight="normal" text-anchor="middle" stroke="#555" stroke-width="0.15">01</text>
<text x="116.87" y="494.00" font-size="10" fill="#555" font-weight="normal" text-anchor="middle" stroke="#555" stroke-width="0.15">02</text>
<text x="136.74" y="494.00" font-size="10" fill="#555" font-weight="normal" text-anchor="middle" stroke="#555" stroke-width="0.15">03</text>
<text x="156.61" y="494.00" font-size="10" fill="#555" font-weight="normal" text-anchor="middle" stroke="#555" stroke-width="0.15">04</text>
<text x="176.48" y="494.00" font-size="10" fill="#555" font-weight="normal" text-anchor="middle" stroke="#555" stroke-width="0.15">05</text>
<text x="196.35" y="494.00" font-size="10" fill="#555" font-weight="normal" text-anchor="middle" stroke="#555" stroke-width="0.15">06</text>
<text x="216.22" y="494.00" font-size="10" fill="#555" font-weight="normal" text-anchor="middle" stroke="#555" stroke-width="0.15">07</text>
<text x="236.09" y="494.00" font-size="10" fill="#555" font-weight="normal" text-anchor="middle" stroke="#555" stroke-width="0.15">08</text>
<text x="255.96" y="494.00" font-size="10" fill="#555" font-weight="normal" text-anchor="middle" stroke="#555" stroke-width="0.15">09</text>
<text x="275.83" y="494.00" font-size="10" fill="#555" font-weight="normal" text-anchor="middle" stroke="#555" stroke-width="0.15">10</text>
<text x="295.70" y="494.00" font-size="10" fill="#555" font-weight="normal" text-anchor="middle" stroke="#555" stroke-width="0.15">11</text>
<text x="315.57" y="494.00" font-size="10" fill="#555" font-weight="normal" text-anchor="middle" stroke="#555" stroke-width="0.15">12</text>
<text x="335.44" y="494.00" font-size="10" fill="#555" font-weight="normal" text-anchor="middle" stroke="#555" stroke-width="0.15">13</text>
<text x="355.31" y="494.00" font-size="10" fill="#555" font-weight="normal" text-anchor="middle" stroke="#555" stroke-width="0.15">14</text>
<text x="375.18" y="494.00" font-size="10" fill="#555" font-weight="normal" text-anchor="middle" stroke="#555" stroke-width="0.15">15</text>
<text x="395.05" y="494.00" font-size="10" fill="#555" font-weight="normal" text-anchor="middle" stroke="#555" stroke-width="0.15">16</text>
<text x="414.92" y="494.00" font-size="10" fill="#555" font-weight="normal" text-anchor="middle" stroke="#555" stroke-width="0.15">17</text>
<rect x="425.10" y="480.80" width="18.80" height="20.20" fill="#a3d6ef" />
<text x="433.60" y="495.20" font-size="11.6" fill="#4a4a4a" font-weight="normal" text-anchor="middle" stroke="#4a4a4a" stroke-width="0.3">18</text>
<text x="454.66" y="494.00" font-size="10" fill="#555" font-weight="normal" text-anchor="middle" stroke="#555" stroke-width="0.15">19</text>
<text x="474.53" y="494.00" font-size="10" fill="#555" font-weight="normal" text-anchor="middle" stroke="#555" stroke-width="0.15">20</text>
<text x="494.40" y="494.00" font-size="10" fill="#555" font-weight="normal" text-anchor="middle" stroke="#555" stroke-width="0.15">21</text>
<text x="514.27" y="494.00" font-size="10" fill="#555" font-weight="normal" text-anchor="middle" stroke="#555" stroke-width="0.15">22</text>
<text x="534.14" y="494.00" font-size="10" fill="#555" font-weight="normal" text-anchor="middle" stroke="#555" stroke-width="0.15">23</text>
<text x="554.01" y="494.00" font-size="10" fill="#555" font-weight="normal" text-anchor="middle" stroke="#555" stroke-width="0.15">24</text>
<text x="573.88" y="494.00" font-size="10" fill="#555" font-weight="normal" text-anchor="middle" stroke="#555" stroke-width="0.15">25</text>
<text x="593.75" y="494.00" font-size="10" fill="#555" font-weight="normal" text-anchor="middle" stroke="#555" stroke-width="0.15">26</text>
<text x="613.62" y="494.00" font-size="10" fill="#555" font-weight="normal" text-anchor="middle" stroke="#555" stroke-width="0.15">27</text>
<text x="633.49" y="494.00" font-size="10" fill="#555" font-weight="normal" text-anchor="middle" stroke="#555" stroke-width="0.15">28</text>
<text x="653.36" y="494.00" font-size="10" fill="#555" font-weight="normal" text-anchor="middle" stroke="#555" stroke-width="0.15">29</text>
<text x="673.23" y="494.00" font-size="10" fill="#555" font-weight="normal" text-anchor="middle" stroke="#555" stroke-width="0.15">30</text>
<text x="693.10" y="494.00" font-size="10" fill="#555" font-weight="normal" text-anchor="middle" stroke="#555" stroke-width="0.15">31</text>
<text x="97.00" y="625.00" font-size="10" fill="#555" font-weight="normal" text-anchor="middle" stroke="#555" stroke-width="0.15">01</text>
<text x="116.87" y="625.00" font-size="10" fill="#555" font-weight="normal" text-anchor="middle" stroke="#555" stroke-width="0.15">02</text>
<text x="136.74" y="625.00" font-size="10" fill="#555" font-weight="normal" text-anchor="middle" stroke="#555" stroke-width="0.15">03</text>
<text x="156.61" y="625.00" font-size="10" fill="#e8466c" font-weight="normal" text-anchor="middle" stroke="#e8466c" stroke-width="0.15">04</text>
<text x="176.48" y="625.00" font-size="10" fill="#e8466c" font-weight="normal" text-anchor="middle" stroke="#e8466c" stroke-width="0.15">05</text>
<text x="196.35" y="625.00" font-size="10" fill="#555" font-weight="normal" text-anchor="middle" stroke="#555" stroke-width="0.15">06</text>
<text x="216.22" y="625.00" font-size="10" fill="#555" font-weight="normal" text-anchor="middle" stroke="#555" stroke-width="0.15">07</text>
<text x="236.09" y="625.00" font-size="10" fill="#555" font-weight="normal" text-anchor="middle" stroke="#555" stroke-width="0.15">08</text>
<text x="255.96" y="625.00" font-size="10" fill="#555" font-weight="normal" text-anchor="middle" stroke="#555" stroke-width="0.15">09</text>
<text x="275.83" y="625.00" font-size="10" fill="#555" font-weight="normal" text-anchor="middle" stroke="#555" stroke-width="0.15">10</text>
<text x="295.70" y="625.00" font-size="10" fill="#e8466c" font-weight="normal" text-anchor="middle" stroke="#e8466c" stroke-width="0.15">11</text>
<text x="315.57" y="625.00" font-size="10" fill="#e8466c" font-weight="normal" text-anchor="middle" stroke="#e8466c" stroke-width="0.15">12</text>
<text x="335.44" y="625.00" font-size="10" fill="#555" font-weight="normal" text-anchor="middle" stroke="#555" stroke-width="0.15">13</text>
<text x="355.31" y="625.00" font-size="10" fill="#555" font-weight="normal" text-anchor="middle" stroke="#555" stroke-width="0.15">14</text>
<text x="375.18" y="625.00" font-size="10" fill="#555" font-weight="normal" text-anchor="middle" stroke="#555" stroke-width="0.15">15</text>
<text x="395.05" y="625.00" font-size="10" fill="#555" font-weight="normal" text-anchor="middle" stroke="#555" stroke-width="0.15">16</text>
<text x="414.92" y="625.00" font-size="10" fill="#555" font-weight="normal" text-anchor="middle" stroke="#555" stroke-width="0.15">17</text>
<rect x="425.10" y="610.30" width="18.80" height="19.90" fill="#a3d6ef" />
<path d="M431.3,630.3 L434.5,627.3 L437.7,630.3 Z" fill="#fafafa"/>
<text x="433.60" y="624.00" font-size="11.6" fill="#4a4a4a" font-weight="normal" text-anchor="middle" stroke="#4a4a4a" stroke-width="0.3">18</text>
<text x="454.66" y="625.00" font-size="10" fill="#e8466c" font-weight="normal" text-anchor="middle" stroke="#e8466c" stroke-width="0.15">19</text>
<text x="474.53" y="625.00" font-size="10" fill="#555" font-weight="normal" text-anchor="middle" stroke="#555" stroke-width="0.15">20</text>
<text x="494.40" y="625.00" font-size="10" fill="#555" font-weight="normal" text-anchor="middle" stroke="#555" stroke-width="0.15">21</text>
<text x="514.27" y="625.00" font-size="10" fill="#555" font-weight="normal" text-anchor="middle" stroke="#555" stroke-width="0.15">22</text>
<text x="534.14" y="625.00" font-size="10" fill="#555" font-weight="normal" text-anchor="middle" stroke="#555" stroke-width="0.15">23</text>
<text x="554.01" y="625.00" font-size="10" fill="#555" font-weight="normal" text-anchor="middle" stroke="#555" stroke-width="0.15">24</text>
<text x="573.88" y="625.00" font-size="10" fill="#e8466c" font-weight="normal" text-anchor="middle" stroke="#e8466c" stroke-width="0.15">25</text>
<text x="593.75" y="625.00" font-size="10" fill="#e8466c" font-weight="normal" text-anchor="middle" stroke="#e8466c" stroke-width="0.15">26</text>
<text x="613.62" y="625.00" font-size="10" fill="#555" font-weight="normal" text-anchor="middle" stroke="#555" stroke-width="0.15">27</text>
<text x="633.49" y="625.00" font-size="10" fill="#555" font-weight="normal" text-anchor="middle" stroke="#555" stroke-width="0.15">28</text>
<text x="653.36" y="625.00" font-size="10" fill="#555" font-weight="normal" text-anchor="middle" stroke="#555" stroke-width="0.15">29</text>
<text x="673.23" y="625.00" font-size="10" fill="#555" font-weight="normal" text-anchor="middle" stroke="#555" stroke-width="0.15">30</text>
<rect x="682.60" y="612.40" width="1.20" height="29.30" fill="#888" />
<text x="688.00" y="625.00" font-size="10" fill="#555" font-weight="normal" text-anchor="start" stroke="#555" stroke-width="0.15">01</text>
<clipPath id="mc"><rect x="680" y="600" width="22.6" height="42.5"/></clipPath>
<text x="688.00" y="642.00" font-size="10.5" fill="#666" font-weight="normal" text-anchor="start" clip-path="url(#mc)">Ma</text>
<clipPath id="ac"><rect x="80" y="620" width="100" height="22.5"/></clipPath>
<text x="87.60" y="641.30" font-size="10.5" fill="#555" font-weight="normal" text-anchor="start" textLength="37.4" lengthAdjust="spacingAndGlyphs" clip-path="url(#ac)">Апрель</text>
<path transform="translate(96.85,513.15) scale(1.05,1.05)" d="M0,-7 C1.2,-5 4.9,-1.8 4.9,1.9 C4.9,4.7 2.7,6.8 0,6.8 C-2.7,6.8 -4.9,4.7 -4.9,1.9 C-4.9,-1.8 -1.2,-5 0,-7 Z" fill="#e85656"/>
<path transform="translate(176.25,513.20) scale(0.67,0.745)" d="M0,-7 C1.2,-5 4.9,-1.8 4.9,1.9 C4.9,4.7 2.7,6.8 0,6.8 C-2.7,6.8 -4.9,4.7 -4.9,1.9 C-4.9,-1.8 -1.2,-5 0,-7 Z" fill="#e85656"/>
<circle cx="315.4" cy="512.9" r="7.3" fill="#f6d55c"/>
<path transform="translate(275.73,556.30) scale(0.9)" d="M0,6.5 C-1.5,5.2 -6.95,1.6 -6.95,-2.4 C-6.95,-5 -5.3,-6.5 -3.5,-6.5 C-2,-6.5 -0.7,-5.7 0,-4.7 C0.7,-5.7 2,-6.5 3.5,-6.5 C5.3,-6.5 6.95,-5 6.95,-2.4 C6.95,1.6 1.5,5.2 0,6.5 Z" fill="#ea5fb0"/>
<path transform="translate(315.47,556.30) scale(0.9)" d="M0,6.5 C-1.5,5.2 -6.95,1.6 -6.95,-2.4 C-6.95,-5 -5.3,-6.5 -3.5,-6.5 C-2,-6.5 -0.7,-5.7 0,-4.7 C0.7,-5.7 2,-6.5 3.5,-6.5 C5.3,-6.5 6.95,-5 6.95,-2.4 C6.95,1.6 1.5,5.2 0,6.5 Z" fill="#ea5fb0"/>
<path transform="translate(335.34,556.30) scale(0.9)" d="M0,6.5 C-1.5,5.2 -6.95,1.6 -6.95,-2.4 C-6.95,-5 -5.3,-6.5 -3.5,-6.5 C-2,-6.5 -0.7,-5.7 0,-4.7 C0.7,-5.7 2,-6.5 3.5,-6.5 C5.3,-6.5 6.95,-5 6.95,-2.4 C6.95,1.6 1.5,5.2 0,6.5 Z" fill="#ea5fb0"/>
<path transform="translate(355.21,556.30) scale(0.9)" d="M0,6.5 C-1.5,5.2 -6.95,1.6 -6.95,-2.4 C-6.95,-5 -5.3,-6.5 -3.5,-6.5 C-2,-6.5 -0.7,-5.7 0,-4.7 C0.7,-5.7 2,-6.5 3.5,-6.5 C5.3,-6.5 6.95,-5 6.95,-2.4 C6.95,1.6 1.5,5.2 0,6.5 Z" fill="#ea5fb0"/>
<text x="78.80" y="657.20" font-size="11" fill="#2a2a2a" font-weight="bold" text-anchor="start" textLength="71.8" lengthAdjust="spacingAndGlyphs" >Менструация</text>
<text x="240.00" y="657.20" font-size="11" fill="#2a2a2a" font-weight="bold" text-anchor="start" textLength="95.5" lengthAdjust="spacingAndGlyphs" >Тест на овуляцию</text>
<text x="376.60" y="657.20" font-size="11" fill="#2a2a2a" font-weight="bold" text-anchor="start" textLength="118.1" lengthAdjust="spacingAndGlyphs" >Тест на беременность</text>
<text x="539.30" y="657.20" font-size="11" fill="#2a2a2a" font-weight="bold" text-anchor="start" textLength="134.2" lengthAdjust="spacingAndGlyphs" >Цервикальная жидкость</text>
<path transform="translate(86.35,672.80) scale(1.0,1.0)" d="M0,-7 C1.2,-5 4.9,-1.8 4.9,1.9 C4.9,4.7 2.7,6.8 0,6.8 C-2.7,6.8 -4.9,4.7 -4.9,1.9 C-4.9,-1.8 -1.2,-5 0,-7 Z" fill="#e85656"/>
<text x="99.80" y="677.00" font-size="11" fill="#333" font-weight="normal" text-anchor="start" textLength="65.6" lengthAdjust="spacingAndGlyphs" stroke="#333" stroke-width="0.18">Менструация</text>
<path transform="translate(86.35,695.30) scale(0.69,0.745)" d="M0,-7 C1.2,-5 4.9,-1.8 4.9,1.9 C4.9,4.7 2.7,6.8 0,6.8 C-2.7,6.8 -4.9,4.7 -4.9,1.9 C-4.9,-1.8 -1.2,-5 0,-7 Z" fill="#e85656"/>
<text x="99.80" y="700.00" font-size="11" fill="#333" font-weight="normal" text-anchor="start" textLength="114.8" lengthAdjust="spacingAndGlyphs" stroke="#333" stroke-width="0.18">Небольшие выделения</text>
<circle cx="247.2" cy="673" r="7.3" fill="#f6d55c"/>
<text x="261.00" y="677.00" font-size="11" fill="#333" font-weight="normal" text-anchor="start" textLength="79.4" lengthAdjust="spacingAndGlyphs" stroke="#333" stroke-width="0.18">Положительный</text>
<circle cx="247.2" cy="694.1" r="6.8" fill="#fff" stroke="#f7da6e" stroke-width="1.4"/>
<text x="261.00" y="699.50" font-size="11" fill="#333" font-weight="normal" text-anchor="start" textLength="77" lengthAdjust="spacingAndGlyphs" stroke="#333" stroke-width="0.18">Отрицательный</text>
<rect x="378.00" y="666.00" width="2.80" height="13.00" fill="#8cc43f" />
<rect x="386.00" y="666.00" width="2.80" height="13.00" fill="#8cc43f" />
<text x="397.60" y="677.50" font-size="11" fill="#333" font-weight="normal" text-anchor="start" textLength="79.4" lengthAdjust="spacingAndGlyphs" stroke="#333" stroke-width="0.18">Положительный</text>
<rect x="382.40" y="687.50" width="2.80" height="13.00" fill="#8cc43f" />
<text x="397.60" y="699.00" font-size="11" fill="#333" font-weight="normal" text-anchor="start" textLength="77" lengthAdjust="spacingAndGlyphs" stroke="#333" stroke-width="0.18">Отрицательный</text>
<rect x="378.00" y="708.50" width="2.80" height="13.00" fill="#8cc43f" />
<rect x="386.00" y="708.50" width="2.80" height="13.00" fill="#d5eab0" />
<text x="397.60" y="720.00" font-size="11" fill="#333" font-weight="normal" text-anchor="start" textLength="107.8" lengthAdjust="spacingAndGlyphs" stroke="#333" stroke-width="0.18">Слабоположительный</text>
<path transform="translate(548.1,676.5)" d="M0,-5.6 C1,-4.2 4.4,-2.1 4.4,0.8 C4.4,3.3 2.4,5 0,5 C-2.4,5 -4.4,3.3 -4.4,0.8 C-4.4,-2.1 -1,-4.2 0,-5.6 Z" fill="#fff" stroke="#8cc3ee" stroke-width="1.4"/>
<text x="561.30" y="680.00" font-size="11" fill="#333" font-weight="normal" text-anchor="start" textLength="23.5" lengthAdjust="spacingAndGlyphs" stroke="#333" stroke-width="0.18">Сухо</text>
<path transform="translate(548.1,697.9)" d="M-4.1,-5.6 L4.1,-5.6 L4.1,-4.6 C1.5,-4.2 1,-2 1,0 C1,2 1.5,4.2 4.1,4.6 L4.1,5.6 L-4.1,5.6 L-4.1,4.6 C-1.5,4.2 -1,2 -1,0 C-1,-2 -1.5,-4.2 -4.1,-4.6 Z" fill="#8cc3ee"/>
<text x="561.30" y="701.40" font-size="11" fill="#333" font-weight="normal" text-anchor="start" textLength="40.6" lengthAdjust="spacingAndGlyphs" stroke="#333" stroke-width="0.18">Клейкая</text>
<path transform="translate(548.1,718.5)" d="M-4.9,-5.6 C-0.5,-5.4 5,-3 5,1.2 C5,3.9 2.8,5.7 0,5.7 C-2.6,5.7 -4.6,4.2 -4.6,2 C-4.6,0 -2.5,-0.9 -0.5,-1.2 C-1.5,-2.5 -3,-4.4 -4.9,-5.6 Z" fill="#8cc3ee"/>
<text x="561.30" y="722.00" font-size="11" fill="#333" font-weight="normal" text-anchor="start" textLength="79.4" lengthAdjust="spacingAndGlyphs" stroke="#333" stroke-width="0.18">Кремообразная</text>
<path transform="translate(548.1,739.2)" d="M0,-8.6 C0.8,-6 4.8,-3.4 4.8,0 C4.8,2.8 2.6,4.8 0,4.8 C-2.6,4.8 -4.8,2.8 -4.8,0 C-4.8,-3.4 -0.8,-6 0,-8.6 Z" fill="#8cc3ee"/>
<text x="561.30" y="742.90" font-size="11" fill="#333" font-weight="normal" text-anchor="start" textLength="58" lengthAdjust="spacingAndGlyphs" stroke="#333" stroke-width="0.18">Водянистая</text>
<path transform="translate(548,758.7)" d="M0,-6.45 C2.8,-6.45 4.8,-3.4 4.8,0.4 C4.8,4 2.7,6.45 0,6.45 C-2.7,6.45 -4.8,4 -4.8,0.4 C-4.8,-3.4 -2.8,-6.45 0,-6.45 Z" fill="#8cc3ee"/>
<text x="561.30" y="763.00" font-size="11" fill="#333" font-weight="normal" text-anchor="start" textLength="72.2" lengthAdjust="spacingAndGlyphs" stroke="#333" stroke-width="0.18">Яичный белок</text>
<path transform="translate(85.35,759.50) scale(1.0)" d="M0,6.5 C-1.5,5.2 -6.95,1.6 -6.95,-2.4 C-6.95,-5 -5.3,-6.5 -3.5,-6.5 C-2,-6.5 -0.7,-5.7 0,-4.7 C0.7,-5.7 2,-6.5 3.5,-6.5 C5.3,-6.5 6.95,-5 6.95,-2.4 C6.95,1.6 1.5,5.2 0,6.5 Z" fill="#ea5fb0"/>
<text x="99.30" y="763.00" font-size="11" fill="#333" font-weight="normal" text-anchor="start" textLength="62.9" lengthAdjust="spacingAndGlyphs" stroke="#333" stroke-width="0.18">Половой акт</text>
<circle cx="191.5" cy="759.4" r="7.4" fill="#c9c9c9"/><line x1="188.7" y1="763.2" x2="194.2" y2="756.2" stroke="#fff" stroke-width="2.3" stroke-linecap="round"/>
<text x="204.20" y="763.00" font-size="11" fill="#333" font-weight="normal" text-anchor="start" textLength="80.7" lengthAdjust="spacingAndGlyphs" stroke="#333" stroke-width="0.18">Прием лекарств</text>
<path transform="translate(314.8,752.1)" d="M0,0 A7.5,7.5 0 1,0 9.7,9.7 A7.5,7.5 0 0,1 0,0 Z" fill="#ec9a35"/>
<text x="329.40" y="763.00" font-size="11" fill="#333" font-weight="normal" text-anchor="start" textLength="95.2" lengthAdjust="spacingAndGlyphs" stroke="#333" stroke-width="0.18">Лунный календарь</text>
</svg>
</body></html>
